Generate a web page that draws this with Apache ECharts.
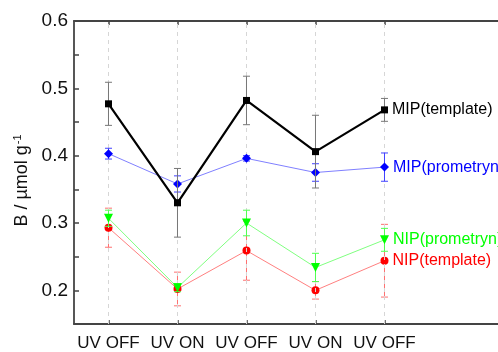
<!DOCTYPE html>
<html><head><meta charset="utf-8">
<script src="https://cdn.jsdelivr.net/npm/echarts@6/dist/echarts.min.js"></script>
<style>html,body{margin:0;padding:0;background:#fff}#c{width:498px;height:352px}</style>
</head><body><div id="c"></div>
<script>
const categories = ['UV OFF', 'UV ON', 'UV OFF', 'UV ON', 'UV OFF'];
const xPos = [1, 2, 3, 4, 5];
const mipTemplate = [0.477, 0.330, 0.482, 0.406, 0.468];
const mipTemplateErr = [0.032, 0.051, 0.036, 0.054, 0.017];
const mipPrometryn = [0.403, 0.358, 0.396, 0.375, 0.383];
const mipPrometrynErr = [0.008, 0.012, 0.004, 0.013, 0.021];
const nipPrometryn = [0.307, 0.204, 0.300, 0.234, 0.275];
const nipPrometrynErr = [0.012, 0.006, 0.019, 0.021, 0.017];
const nipTemplate = [0.293, 0.202, 0.259, 0.200, 0.244];
const nipTemplateErr = [0.029, 0.025, 0.044, 0.013, 0.054];
const yLabels = [0.2, 0.3, 0.4, 0.5, 0.6];

const FONT = 'Liberation Sans, Arial, sans-serif';
const chart = echarts.init(document.getElementById('c'));

function lineSeries(name, vals, color, lineColor, width, symbol, size, z) {
  return {
    type: 'line', name: name, z: z,
    data: xPos.map((x, i) => {
      const item = { value: [x, vals[i]] };
      if (i === xPos.length - 1) {
        item.label = { show: true, position: 'right', distance: 4, formatter: name,
          color: color, fontSize: 16, fontFamily: FONT };
      }
      return item;
    }),
    symbol: symbol, symbolSize: size, showSymbol: true,
    itemStyle: { color: color },
    lineStyle: { color: lineColor, width: width },
    emphasis: { disabled: true }, animation: false
  };
}
function errSeries(vals, errs, color, z) {
  return {
    type: 'custom', z: z, animation: false, silent: true,
    data: xPos.map((x, i) => [x, vals[i] - errs[i], vals[i] + errs[i]]),
    encode: { x: 0, y: [1, 2] },
    renderItem: function (params, api) {
      const x = api.value(0);
      const lo = api.coord([x, api.value(1)]);
      const hi = api.coord([x, api.value(2)]);
      const w = 3.5;
      const st = { stroke: color, lineWidth: 1 };
      return { type: 'group', children: [
        { type: 'line', shape: { x1: lo[0], y1: lo[1], x2: hi[0], y2: hi[1] }, style: st },
        { type: 'line', shape: { x1: lo[0] - w, y1: lo[1], x2: lo[0] + w, y2: lo[1] }, style: st },
        { type: 'line', shape: { x1: hi[0] - w, y1: hi[1], x2: hi[0] + w, y2: hi[1] }, style: st }
      ] };
    }
  };
}

const option = {
  backgroundColor: '#fff',
  animation: false,
  grid: { left: 74, top: 21, right: 0, bottom: 25 },
  xAxis: [
    { type: 'value', min: 0.5, max: 6.645, position: 'bottom',
      axisLine: { lineStyle: { color: '#444', width: 1.8 } },
      axisTick: { inside: true, length: 4, customValues: xPos, lineStyle: { color: '#444', width: 1.5 } },
      splitLine: { show: false },
      axisLabel: { customValues: xPos, formatter: v => categories[Math.round(v) - 1],
        color: '#111', fontSize: 17, fontFamily: FONT, margin: 11 } },
    { type: 'value', min: 0.5, max: 6.645, position: 'top',
      axisLine: { lineStyle: { color: '#444', width: 1.8 } },
      axisTick: { inside: true, length: 4, customValues: xPos, lineStyle: { color: '#444', width: 1.5 } },
      splitLine: { show: false },
      axisLabel: { show: false } }
  ],
  yAxis: [
    { type: 'value', min: 0.15, max: 0.6, interval: 0.05,
      axisLine: { show: true, lineStyle: { color: '#444', width: 1.8 } },
      axisTick: { inside: true, length: 5, lineStyle: { color: '#444', width: 1.5 } },
      splitLine: { show: false },
      axisLabel: { customValues: yLabels, formatter: v => v.toFixed(1),
        color: '#111', fontSize: 19, fontFamily: FONT, margin: 6 },
      name: 'B / \u00b5mol g{sup|-1}', nameLocation: 'middle', nameGap: 42,
      nameTextStyle: { color: '#111', fontSize: 18, fontFamily: FONT, padding: [0, 16, 0, 0],
        rich: { sup: { fontSize: 11, verticalAlign: 'top', color: '#111', fontFamily: FONT, padding: [0, 0, 8, 1] } } } }
  ],
  series: [
    { type: 'line', data: [], z: 1, silent: true,
      markLine: { silent: true, symbol: 'none', label: { show: false },
        lineStyle: { color: '#d6d6d6', type: [4, 4], width: 1 },
        data: xPos.map(x => ({ xAxis: x })) } },
    errSeries(nipTemplate, nipTemplateErr, '#ff7070', 3),
    lineSeries('NIP(template)', nipTemplate, '#ff0000', '#ff8080', 1, 'circle', 8, 4),
    errSeries(nipPrometryn, nipPrometrynErr, '#50ff50', 5),
    lineSeries('NIP(prometryn)', nipPrometryn, '#00ff00', '#80ff80', 1, 'path://M0,0 L10,0 L5,8 Z', 9, 6),
    errSeries(mipPrometryn, mipPrometrynErr, '#4040ff', 7),
    lineSeries('MIP(prometryn)', mipPrometryn, '#0000ff', '#8080ff', 1, 'diamond', 9, 8),
    errSeries(mipTemplate, mipTemplateErr, '#777777', 9),
    lineSeries('MIP(template)', mipTemplate, '#000000', '#000000', 2.2, 'rect', 7, 10)
  ]
};
chart.setOption(option);
</script></body></html>
